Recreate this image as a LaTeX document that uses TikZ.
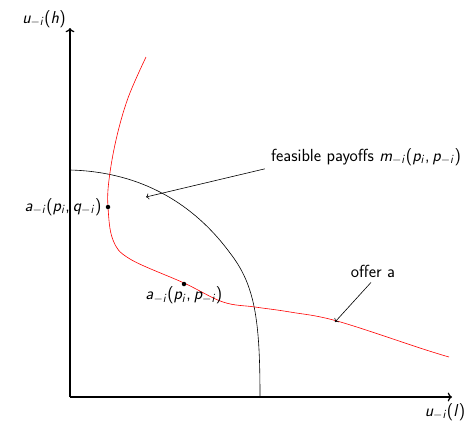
\documentclass[tikz,border=0pt]{standalone}
\usepackage{amsmath, amssymb}
\usepackage{xcolor}
\usepackage{tikz}
\usetikzlibrary{arrows.meta, positioning}
% sans serif letters in formulas
\DeclareMathAlphabet{\mathsfit}{OT1}{cmss}{m}{sl}
\DeclareSymbolFont{sfupright}{OT1}{cmss}{m}{n}
\DeclareMathSymbol{(}{\mathopen}{sfupright}{"28}
\DeclareMathSymbol{)}{\mathclose}{sfupright}{"29}
\DeclareMathSymbol{,}{\mathpunct}{sfupright}{"2C}
\newcommand{\sv}[1]{\mathsfit{#1}}
\tikzset{
  axisline/.style={->,>=To,line width=1.2pt,black},
  frontier/.style={black,semithick},
  offercurve/.style={red,semithick},
  ptdot/.style={circle,fill=black,inner sep=0pt,minimum size=4.5pt},
  txtnode/.style={inner sep=1pt,font=\sffamily\fontsize{17.5}{21}\selectfont},
  lblarrow/.style={->,>=To,semithick,black},
}

\begin{document}
\begin{tikzpicture}[x=1pt,y=-1pt]
  \useasboundingbox (0,0) rectangle (474,424);
  % axes
  \coordinate (o) at (70,397);
  \coordinate (ytop) at (70,28);
  \coordinate (xend) at (452,397);
  \draw[axisline] (o) -- (ytop);
  \draw[axisline] (o) -- (xend);
  \node[txtnode,anchor=east] (ylab) at (67,19) {$\sv{u}_{-\sv{i}}(\sv{h})$};
  \node[txtnode] (xlab) at (445,412) {$\sv{u}_{-\sv{i}}(\sv{l})$};
  % feasible set frontier
  \draw[frontier] (70,170) .. controls (150,172) and (200,212) .. (230,253)
                  .. controls (255,285) and (260,320) .. (260,397);
  % offer curve
  \draw[offercurve] plot[smooth,tension=0.6] coordinates {(146,57) (128,98) (116,140) (109,180) (108,207)
    (113,240) (130,259) (184,283) (223,302) (255,307) (290,312) (337,321) (423,349) (449,357)};
  % points on the offer curve
  \node[ptdot,label={[txtnode,label distance=3pt]left:$\sv{a}_{-\sv{i}}(\sv{p}_{\sv{i}},\sv{q}_{-\sv{i}})$}] (aq) at (108,207) {};
  \node[ptdot,label={[txtnode,label distance=-1pt]below:$\sv{a}_{-\sv{i}}(\sv{p}_{\sv{i}},\sv{p}_{-\sv{i}})$}] (ap) at (184,284) {};
  % annotations
  \node[txtnode] (feas) at (366,157) {feasible payoffs $\sv{m}_{-\sv{i}}(\sv{p}_{\sv{i}},\sv{p}_{-\sv{i}})$};
  \coordinate (feastip) at (146,197);
  \draw[lblarrow] (feas.south west) ++(-5,2) -- (feastip);
  \node[txtnode] (offer) at (373,271) {offer a};
  \coordinate (offertip) at (335,322);
  \draw[lblarrow] (offer.south) ++(-2,4) -- (offertip);
\end{tikzpicture}
\end{document}
